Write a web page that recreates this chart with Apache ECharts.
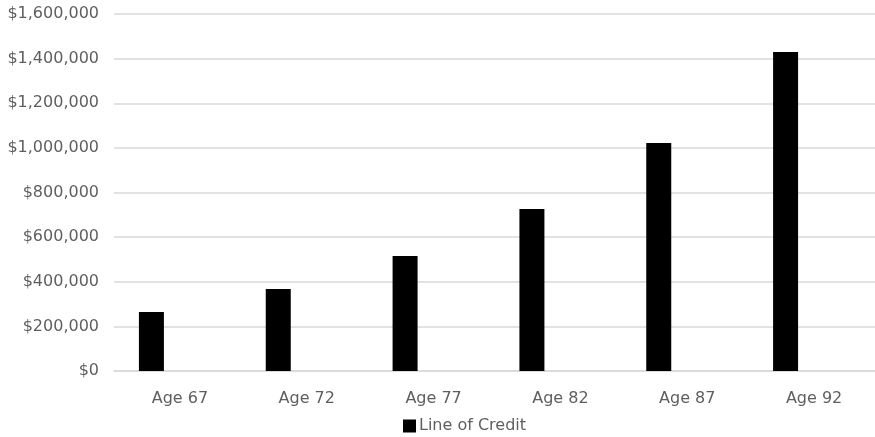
<!DOCTYPE html>
<html>
<head>
<meta charset="utf-8">
<script src="https://cdn.jsdelivr.net/npm/echarts@6/dist/echarts.min.js"></script>
<style>
  html, body { margin: 0; padding: 0; background: #fff; }
  #chart { width: 875px; height: 437px; }
</style>
</head>
<body>
<div id="chart"></div>
<script>
// Projected line of credit by age
const categories = ['Age 67', 'Age 72', 'Age 77', 'Age 82', 'Age 87', 'Age 92'];
const lineOfCredit = [264000, 367000, 515000, 726000, 1022000, 1430000];
const seriesName = 'Line of Credit';

const textColor = '#5f5f5f';
const fontFamily = 'DejaVu Sans';

const chart = echarts.init(document.getElementById('chart'), null, { renderer: 'canvas' });

function money(v) {
  return '$' + Number(v).toLocaleString('en-US');
}

chart.setOption({
  animation: false,
  grid: { left: 114, right: -3, top: 14, bottom: 66, containLabel: false },
  legend: {
    data: [seriesName],
    left: 398,
    top: 413,
    itemWidth: 13,
    itemHeight: 13,
    itemGap: 10,
    icon: 'rect',
    textStyle: { color: textColor, fontFamily: fontFamily, fontSize: 16, padding: [0, 0, 0, -2] }
  },
  xAxis: {
    type: 'category',
    data: categories,
    axisLine: { show: true, lineStyle: { color: '#d9d9d9', width: 1.5 } },
    axisTick: { show: false },
    axisLabel: { color: textColor, fontFamily: fontFamily, fontSize: 16, margin: 20, padding: [0, 0, 0, 5] }
  },
  yAxis: {
    type: 'value',
    min: 0,
    max: 1600000,
    interval: 200000,
    axisLine: { show: false },
    axisTick: { show: false },
    splitLine: { lineStyle: { color: '#d9d9d9', width: 1.5 } },
    axisLabel: { color: textColor, fontFamily: fontFamily, fontSize: 16, margin: 15, formatter: money }
  },
  series: [
    {
      name: seriesName,
      type: 'bar',
      data: lineOfCredit,
      barWidth: 25,
      barGap: '108%',
      itemStyle: { color: '#000000' }
    },
    {
      // empty companion slot that keeps each bar left of its category centre
      name: 'spacer',
      type: 'bar',
      data: [],
      barWidth: 25
    }
  ]
});
</script>
</body>
</html>
